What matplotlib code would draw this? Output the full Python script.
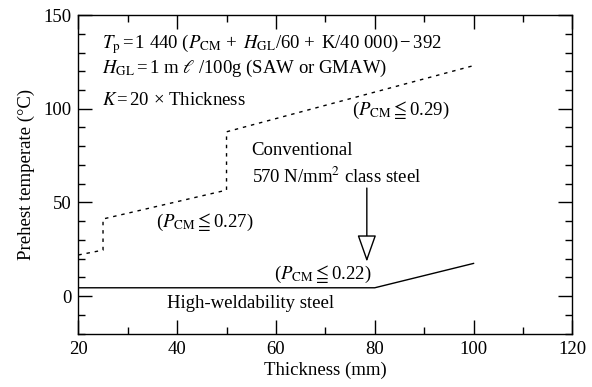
import matplotlib
matplotlib.use("Agg")
import matplotlib.pyplot as plt
from matplotlib.ticker import MultipleLocator
from matplotlib.patches import ArrowStyle

plt.rcParams['font.family'] = ['Liberation Serif', 'DejaVu Serif']
plt.rcParams['mathtext.fontset'] = 'stix'
plt.rcParams['axes.unicode_minus'] = True

# Conventional 570 N/mm2 class steel (dotted)
conv_x = [20, 25, 25, 50, 50, 100]
conv_y = [22.0, 24.6, 41.2, 56.6, 87.7, 123.0]
# High-weldability steel (solid)
hw_x = [20, 80, 100]
hw_y = [4.5, 4.5, 17.5]
# Arrow (from, to)
arrow_x = [78.4, 78.4]
arrow_y = [57.7, 18.4]

xticks = [20, 40, 60, 80, 100, 120]
yticks = [0, 50, 100, 150]

FS = 13.5
fig = plt.figure(figsize=(5.92, 3.87), dpi=100)
ax = fig.add_axes([0.1323, 0.1377, 0.8345, 0.8235])

ax.plot(conv_x, conv_y, color='black', lw=1.0, linestyle=(0, (2.5, 3.5)))
ax.plot(hw_x, hw_y, color='black', lw=1.0)

ax.annotate('', xy=(arrow_x[1], arrow_y[1]), xytext=(arrow_x[0], arrow_y[0]),
            arrowprops=dict(arrowstyle=ArrowStyle('-|>', head_length=1.7, head_width=0.6),
                            mutation_scale=10, fc='white', ec='black', lw=1.0,
                            shrinkA=0, shrinkB=0))

ax.set_xlim(20, 120)
ax.set_ylim(-20, 150)
ax.set_xticks(xticks)
ax.set_yticks(yticks)
ax.xaxis.set_minor_locator(MultipleLocator(10))
ax.yaxis.set_minor_locator(MultipleLocator(10))
ax.tick_params(which='both', direction='in', top=True, right=True, labelsize=FS, width=1.0, pad=5)
ax.tick_params(which='major', length=10)
ax.tick_params(which='minor', length=5)
for s in ax.spines.values():
    s.set_linewidth(1.0)

ax.set_xlabel('Thickness (mm)', fontsize=FS, labelpad=3)
ax.set_ylabel('Prehest temperate (°C)', fontsize=FS, labelpad=6)

EQ = r'$\,$=$\,$'
ax.text(24.7, 132.5,
        r'$T_\mathrm{p}$' + EQ + r'1 440 ($P_\mathrm{CM}$ +$\,$ $H_\mathrm{GL}$/60 +$\,$ K/40 000)$\,$−$\,$392',
        fontsize=FS, ha='left', va='baseline')
ax.text(24.7, 119.2, r'$H_\mathrm{GL}$' + EQ + r'1 m $\ell$ /100g (SAW or GMAW)',
        fontsize=FS, ha='left', va='baseline')
ax.text(24.7, 102.0, r'$K$' + EQ + r'20 × Thickness', fontsize=FS, ha='left', va='baseline')
ax.text(75.3, 96.6, r'($P_\mathrm{CM}$$\leqq$0.29)', fontsize=FS, ha='left', va='baseline')
ax.text(55.1, 75.3, 'Conventional', fontsize=FS, ha='left', va='baseline')
ax.text(55.1, 60.2, r'570 N/mm$^2$ class steel', fontsize=FS, ha='left', va='baseline')
ax.text(35.7, 36.7, r'($P_\mathrm{CM}$$\leqq$0.27)', fontsize=FS, ha='left', va='baseline')
ax.text(59.7, 9.0, r'($P_\mathrm{CM}$$\leqq$0.22)', fontsize=FS, ha='left', va='baseline')
ax.text(37.9, -6.1, 'High-weldability steel', fontsize=FS, ha='left', va='baseline')

fig.savefig('out.png', dpi=100)
